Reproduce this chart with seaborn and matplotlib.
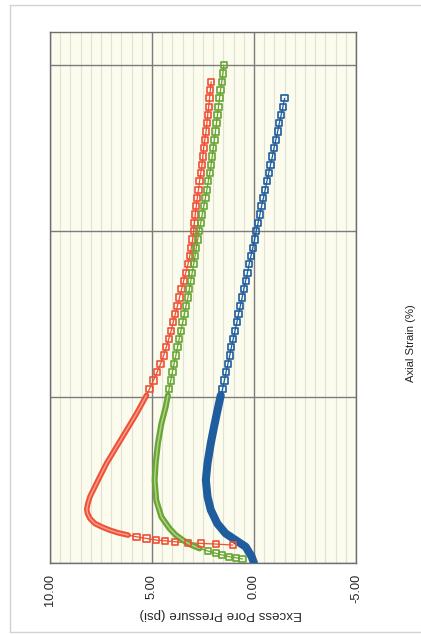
import matplotlib
matplotlib.use("Agg")
import matplotlib.pyplot as plt
import pandas as pd
import seaborn as sns
from matplotlib.ticker import FixedLocator, FixedFormatter, MultipleLocator
from matplotlib.lines import Line2D

# ---------------- data ----------------
pressure_ticks = [10.0, 5.0, 0.0, -5.0]
pressure_tick_labels = ["10.00", "5.00", "0.00", "-5.00"]
strain_ticks = [0, 5, 10, 15]

# Series 1 (red)
red_strain = [0.54, 0.57, 0.59, 0.61, 0.64, 0.67, 0.69, 0.74, 0.79, 0.84, 0.91, 0.99,
              1.09, 1.19, 1.34, 1.49, 1.62, 1.80, 2.00, 2.50, 3.00, 3.50, 4.00, 4.50, 5.05,
              5.25, 5.50, 5.75, 6.00, 6.25, 6.50, 6.75, 7.00, 7.25, 7.50, 7.75, 8.00,
              8.25, 8.50, 8.75, 9.00, 9.25, 9.50, 9.75, 10.00, 10.25, 10.50, 10.75, 11.00,
              11.25, 11.50, 11.75, 12.00, 12.25, 12.50, 12.75, 13.00, 13.25, 13.50, 13.75,
              14.00, 14.25, 14.50]
red_pp = [1.04, 1.86, 2.59, 3.24, 3.89, 4.38, 4.79, 5.27, 5.76, 6.17, 6.66, 7.07,
          7.47, 7.80, 8.04, 8.16, 8.20, 8.14, 8.04, 7.64, 7.23, 6.74, 6.25, 5.76, 5.27,
          5.12, 4.93, 4.75, 4.58, 4.43, 4.30, 4.18, 4.06, 3.96, 3.86, 3.75, 3.65,
          3.55, 3.45, 3.34, 3.24, 3.15, 3.07, 3.01, 2.96, 2.92, 2.88, 2.83, 2.78,
          2.72, 2.67, 2.61, 2.55, 2.51, 2.47, 2.41, 2.35, 2.31, 2.27, 2.22,
          2.18, 2.14, 2.10]

# Series 2 (green)
green_strain = [0.12, 0.16, 0.19, 0.24, 0.29, 0.36, 0.44, 0.55, 0.69, 0.85, 1.04, 1.39,
                1.89, 2.49, 3.00, 3.60, 4.20, 4.70, 5.05,
                5.25, 5.50, 5.75, 6.00, 6.25, 6.50, 6.75, 7.00, 7.25, 7.50, 7.75, 8.00,
                8.25, 8.50, 8.75, 9.00, 9.25, 9.50, 9.75, 10.00, 10.25, 10.50, 10.75, 11.00,
                11.25, 11.50, 11.75, 12.00, 12.25, 12.50, 12.75, 13.00, 13.25, 13.50, 13.75,
                14.00, 14.25, 14.50, 14.75, 15.00]
green_pp = [0.56, 0.90, 1.21, 1.55, 1.86, 2.25, 2.67, 3.10, 3.49, 3.85, 4.14, 4.54,
            4.79, 4.87, 4.82, 4.71, 4.54, 4.33, 4.22,
            4.16, 4.08, 4.00, 3.92, 3.83, 3.75, 3.67, 3.58, 3.50, 3.41, 3.33, 3.24,
            3.17, 3.10, 3.03, 2.96, 2.89, 2.83, 2.76, 2.69, 2.61, 2.54, 2.46, 2.38,
            2.31, 2.24, 2.17, 2.10, 2.05, 2.00, 1.94, 1.89, 1.84, 1.79, 1.74,
            1.69, 1.64, 1.58, 1.53, 1.48]

# Series 3 (blue)
blue_strain = [0.00, 0.20, 0.49, 0.69, 0.89, 1.19, 1.60, 2.00, 2.50, 3.00, 3.60, 4.10,
               4.60, 5.05,
               5.25, 5.50, 5.75, 6.00, 6.25, 6.50, 6.75, 7.00, 7.25, 7.50, 7.75, 8.00,
               8.25, 8.50, 8.75, 9.00, 9.25, 9.50, 9.75, 10.00, 10.25, 10.50, 10.75, 11.00,
               11.25, 11.50, 11.75, 12.00, 12.25, 12.50, 12.75, 13.00, 13.25, 13.50, 13.75,
               14.00]
blue_pp = [0.00, 0.12, 0.41, 0.90, 1.39, 1.80, 2.12, 2.28, 2.36, 2.28, 2.12, 1.96,
           1.79, 1.63,
           1.54, 1.45, 1.37, 1.28, 1.19, 1.11, 1.02, 0.93, 0.84, 0.76, 0.67, 0.58,
           0.50, 0.41, 0.32, 0.24, 0.15, 0.06, -0.03, -0.11, -0.20, -0.29, -0.37, -0.46,
           -0.55, -0.63, -0.72, -0.81, -0.90, -0.98, -1.07, -1.16, -1.24, -1.33, -1.42,
           -1.50]

# ---------------- figure ----------------
sns.set_theme(style="white")
plt.rcParams["font.family"] = ["Liberation Sans", "DejaVu Sans"]

W, H = 421, 634
fig = plt.figure(figsize=(W / 100, H / 100), dpi=100)
fig.patch.set_facecolor("white")
ax = fig.add_axes([50 / W, (H - 563) / H, 306 / W, 531 / H])
ax.set_facecolor("#fbfbee")

# outer chart-area border
border = "#d2d2d2"
fig.add_artist(Line2D([10 / W, 1.0], [1 - 5 / H, 1 - 5 / H], color=border, lw=1.0))
fig.add_artist(Line2D([10 / W, 10 / W], [1 - 5 / H, 1 - 632 / H], color=border, lw=1.0))
fig.add_artist(Line2D([10 / W, 1.0], [1 - 632 / H, 1 - 632 / H], color=border, lw=1.0))

# name, strain, pressure, colour, band width, band inner colour, band start strain
series = [
    ("red", red_strain, red_pp, "#ef5036", 4.0, "#f8b1a2", 0.80),
    ("green", green_strain, green_pp, "#68a532", 4.3, "#bfdc9c", 0.40),
    ("blue", blue_strain, blue_pp, "#1f5d9f", 5.8, None, 0.0),
]
DENSE_END = 5.06

for name, s, p, color, band_lw, inner, band_start in series:
    df = pd.DataFrame({"strain": s, "pp": p})
    in_band = (df.strain >= band_start) & (df.strain <= DENSE_END)
    band = df[in_band]
    sparse = df[~in_band | (df.strain == df.strain[in_band].max())]
    # thin connecting line through all points
    sns.lineplot(data=df, x="pp", y="strain", sort=False, estimator=None,
                 color=color, lw=0.9, ax=ax, zorder=3)
    # dense part: overlapping markers form a band
    sns.lineplot(data=band, x="pp", y="strain", sort=False, estimator=None,
                 color=color, lw=band_lw, ax=ax, zorder=3,
                 solid_capstyle="round", solid_joinstyle="round")
    if inner is not None:
        sns.lineplot(data=band, x="pp", y="strain", sort=False, estimator=None,
                     color=inner, lw=1.1, ax=ax, zorder=3, alpha=0.8)
    # hollow square markers where samples are spread out
    sns.scatterplot(data=df[~in_band], x="pp", y="strain", marker="s", s=20,
                    facecolor="none", edgecolor=color, linewidth=1.2, ax=ax, zorder=4)

ax.set_xlim(10, -5)
ax.set_ylim(0, 16)

ax.xaxis.set_major_locator(FixedLocator(pressure_ticks))
ax.xaxis.set_major_formatter(FixedFormatter(pressure_tick_labels))
ax.xaxis.set_minor_locator(MultipleLocator(0.5))
ax.yaxis.set_major_locator(FixedLocator(strain_ticks))
ax.set_yticklabels([])

ax.grid(which="minor", axis="x", color="#e2e2d4", lw=0.8, zorder=0)
ax.grid(which="major", axis="both", color="#7c7c7c", lw=1.0, zorder=1)
ax.set_axisbelow(True)

ax.tick_params(axis="x", which="both", length=0, pad=8, labelsize=9.2,
               labelrotation=90, labelcolor="#262626")
ax.tick_params(axis="y", which="both", length=0)

for sp in ax.spines.values():
    sp.set_color("#6e6e6e")
    sp.set_linewidth(1.0)

ax.set_xlabel("Excess Pore Pressure (psi)", fontsize=9.6, color="#262626", rotation=180)
ax.xaxis.set_label_coords((221 - 50) / 306, (563 - 614) / 531)
ax.xaxis.label.set_va("center")
ax.set_ylabel("Axial Strain (%)", fontsize=8.1, color="#262626", rotation=90)
ax.yaxis.set_label_position("right")
ax.yaxis.set_label_coords((411 - 50) / 306, (563 - 343) / 531)
ax.yaxis.label.set_va("center")

legend = ax.get_legend()
if legend is not None:
    legend.remove()

fig.savefig("out.png", dpi=100)
